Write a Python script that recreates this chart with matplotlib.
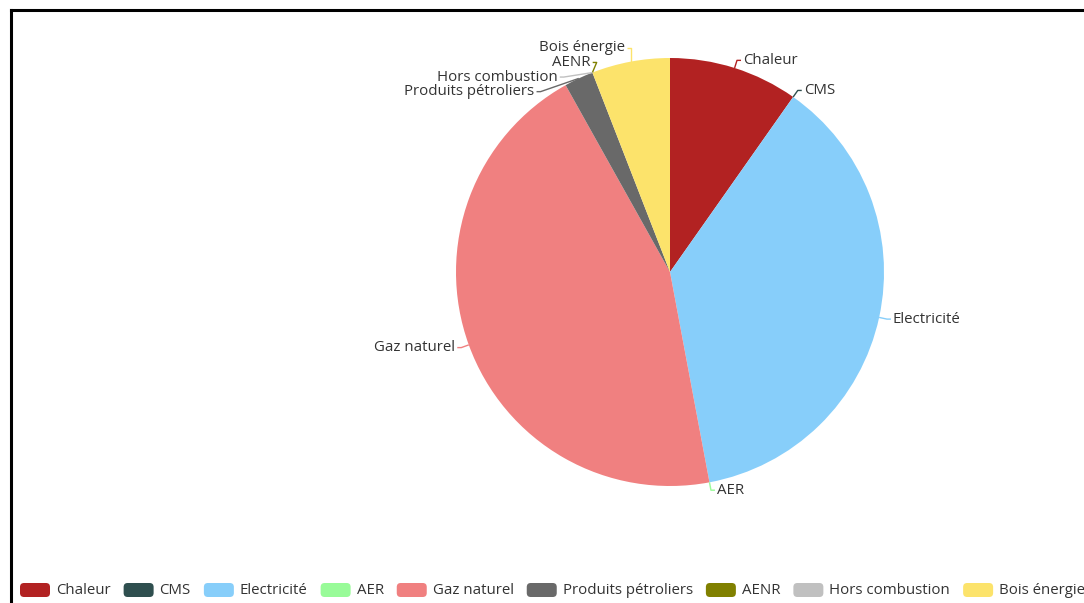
import matplotlib
matplotlib.use("Agg")
import matplotlib.pyplot as plt
from matplotlib.patches import FancyBboxPatch
import numpy as np

# Energy mix by source (share of total, %)
categories = ["Chaleur", "CMS", "Electricité", "AER", "Gaz naturel",
              "Produits pétroliers", "AENR", "Hors combustion", "Bois énergie"]
shares = [9.75, 0.0, 37.25, 0.0, 44.8, 2.2, 0.0, 0.0, 5.9]
colors = ["#b22222", "#2f4f4f", "#87cefa", "#98fb98", "#f08080",
          "#696969", "#808000", "#c0c0c0", "#fce36b"]

FONT = "Open Sans"
FS = 10.8

W, H = 1084, 603
fig = plt.figure(figsize=(W / 100, H / 100), dpi=100)
ax = fig.add_axes([0, 0, 1, 1])

cx, cy, R = 670, H - 272, 214
wedges, _ = ax.pie(shares, colors=colors, startangle=90, counterclock=False,
                   center=(cx, cy), radius=R,
                   wedgeprops=dict(linewidth=0))
ax.set_xlim(0, W)
ax.set_ylim(0, H)
ax.set_aspect("auto")
ax.axis("off")

# ---- outside labels with leader lines ----
L1, L2, GAP = 8, 4, 14.6


def spread(ys, gap):
    """Push overlapping labels (sorted top-first) downwards, then move each
    cluster of pushed labels back up by half of its mean shift."""
    clusters = []
    last = None
    for y in ys:
        if last is not None and last - y < gap:
            cl = clusters[-1]
            cl["shift"] += y - (last - gap)
            y = last - gap
            cl["ys"].append(y)
        else:
            clusters.append(dict(ys=[y], shift=0.0))
        last = y
    out = []
    for cl in clusters:
        back = cl["shift"] / (2 * len(cl["ys"]))
        out += [y + back for y in cl["ys"]]
    return out


info = []
for i, w in enumerate(wedges):
    mid = np.deg2rad((w.theta1 + w.theta2) / 2)
    c, s = np.cos(mid), np.sin(mid)
    side = 1 if c >= -1e-9 else -1
    px, py = cx + R * c, cy + R * s
    ny = round(cy + (R + L1) * s, 6)
    info.append(dict(i=i, side=side, px=px, py=py, ny=ny))

for side in (1, -1):
    items = [d for d in info if d["side"] == side]
    items.sort(key=lambda d: (-d["ny"], d["i"]))
    ys = spread([d["ny"] for d in items], GAP)
    for d, y in zip(items, ys):
        d["y"] = y

for d in info:
    i, side, y = d["i"], d["side"], d["y"]
    dy = y - cy
    rr = (R + L1) ** 2 - dy ** 2
    if rr > 0:
        kx = cx + side * np.sqrt(rr)
    else:
        kx = d["px"]
    ex = kx + side * L2
    ax.plot([d["px"], kx, ex], [d["py"], y, y], color=colors[i], lw=1,
            solid_capstyle="butt", zorder=3)
    ax.text(ex + side * 2, y, categories[i], ha="left" if side > 0 else "right",
            va="center", fontsize=FS, family=FONT, color="#333333", zorder=4)

# ---- legend along the bottom ----
renderer = fig.canvas.get_renderer()
lx, ly = 20, H - 590
sw, sh = 30, 14
for name, col in zip(categories, colors):
    ax.add_patch(FancyBboxPatch((lx, ly - sh / 2), sw, sh,
                                boxstyle="round,pad=0,rounding_size=4",
                                facecolor=col, edgecolor="none",
                                clip_on=False))
    t = ax.text(lx + sw + 6, ly, name, ha="left", va="center", fontsize=FS,
                family=FONT, color="#333333")
    tw = t.get_window_extent(renderer).width
    lx += sw + 6 + tw + 13

# ---- frame lines ----
ax.plot([11, W], [H - 10, H - 10], color="black", lw=2.2, solid_capstyle="projecting")
ax.plot([11, 11], [H - 10, 0], color="black", lw=2.2, solid_capstyle="projecting")

fig.savefig("out.png", dpi=100)
